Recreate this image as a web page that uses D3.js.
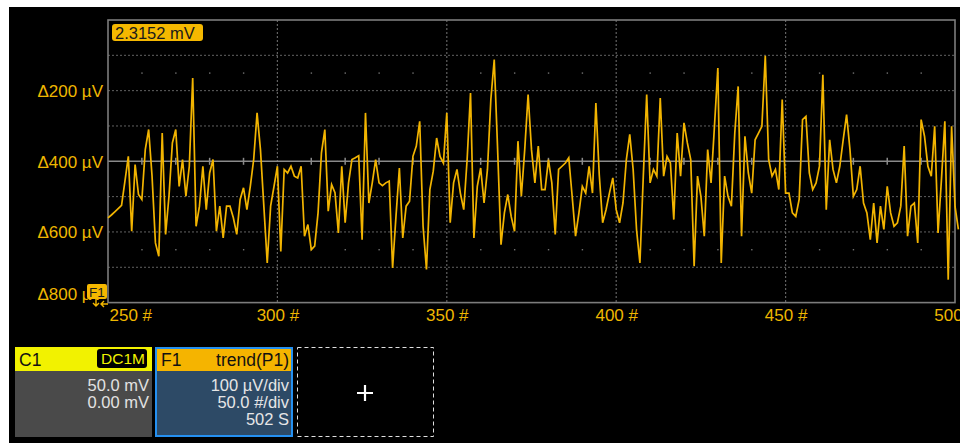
<!DOCTYPE html>
<html><head><meta charset="utf-8">
<script src="https://cdn.jsdelivr.net/npm/d3@7/dist/d3.min.js"></script>
<style>
html,body{margin:0;padding:0;background:#fff;}
svg{display:block;font-family:"Liberation Sans",Arial,sans-serif;}
</style></head><body>
<svg id="c" width="960" height="443"></svg>
<script>
// ---- data ----
const sampleStart = 250; // first sample index shown (#)
const trendValues = [
560,552,543,534,525,456,386,598,409,494,
508,367,310,442,631,669,320,607,499,348,
310,471,395,499,414,164,584,527,414,537,
433,395,598,527,617,527,527,560,607,508,
475,537,471,395,263,367,527,688,527,471,
414,
655,423,433,414,442,447,414,612,579,650,
640,546,376,310,541,466,489,603,414,574,
461,395,390,384,622,263,518,461,395,461,
469,461,456,702,556,419,617,527,513,386,
357,287,584,706,480,428,334,386,405,263,
574,461,423,490,537,395,207,617,471,419,
518,423,225,112,367,636,546,494,556,598,
343,499,367,211,367,461,357,480,480,395,
461,607,423,414,405,390,499,612,546,471,
490,414,490,235,438,574,537,490,447,537,
574,518,395,324,423,593,688,442,211,461,
423,442,221,442,386,405,565,320,442,291,
348,395,697,442,499,612,367,461,301,136,
688,442,499,527,320,188,612,329,433,490,
339,320,301,101,395,442,423,480,225,490,
490,546,556,508,282,273,433,480,461,414,
155,537,339,423,461,414,339,268,367,499,
480,414,518,546,622,518,631,527,593,471,
546,584,574,527,357,612,527,518,631,282,
329,414,442,301,603,452,287,735,301,527,
593
]; // µV (Δ)
const xTicks = [250,300,350,400,450,500];
const xMinor = [260,270,280,290,310,320,330,340,360,370,380,390,410,420,430,440,460,470,480,490];
const yGrid = [100,200,300,400,500,600,700];
const yLabels = [200,400,600,800];
const yDots = [150,650];
const cursorText = "2.3152 mV";
const c1Lines = ["50.0 mV","0.00 mV"];
const f1Lines = ["100 µV/div","50.0 #/div","502 S"];

// ---- drawing ----
const svg = d3.select("#c");
const L=108, R=955, T=20, B=302.6;
const x = d3.scaleLinear().domain([250,500]).range([L,R]);
const y = d3.scaleLinear().domain([0,800]).range([T,B]);
const amber = "#f2b400", labelCol = "#efb700", gridCol = "#626262";

svg.append("rect").attr("x",9).attr("y",7).attr("width",951).attr("height",436).attr("fill","#000");

const g = svg.append("g");
g.selectAll(".hg").data(yGrid.filter(v=>v!==400)).enter().append("line")
  .attr("x1",L).attr("x2",R).attr("y1",d=>y(d)).attr("y2",d=>y(d))
  .attr("stroke",gridCol).attr("stroke-width",1).attr("stroke-dasharray","2,2");
g.selectAll(".vg").data(xTicks.slice(1,-1)).enter().append("line")
  .attr("x1",d=>x(d)).attr("x2",d=>x(d)).attr("y1",T).attr("y2",B)
  .attr("stroke",gridCol).attr("stroke-width",1.2).attr("stroke-dasharray","2,2");
yDots.forEach(v=>{
  g.selectAll(null).data(xMinor).enter().append("rect")
    .attr("x",d=>x(d)-0.6).attr("y",y(v)-0.6).attr("width",1.4).attr("height",1.4).attr("fill","#707070");
});
g.append("line").attr("x1",L).attr("x2",R).attr("y1",y(400)).attr("y2",y(400))
  .attr("stroke","#8a8a8a").attr("stroke-width",1.5);
g.selectAll(".ct").data(xMinor).enter().append("line")
  .attr("x1",d=>x(d)).attr("x2",d=>x(d)).attr("y1",y(400)-3.5).attr("y2",y(400)+3.5)
  .attr("stroke","#8a8a8a").attr("stroke-width",1.5);
g.append("rect").attr("x",L).attr("y",T).attr("width",R-L).attr("height",B-T)
  .attr("fill","none").attr("stroke","#7c7c7c").attr("stroke-width",1.6);

// trace
const line = d3.line().x((d,i)=>x(sampleStart+i)).y(d=>y(d));
svg.append("path").datum(trendValues).attr("d",line)
  .attr("fill","none").attr("stroke",amber).attr("stroke-width",1.7).attr("stroke-linejoin","miter");

// y labels
const yl = svg.append("g").attr("transform",`translate(${L-5},0)`)
  .call(d3.axisLeft(y).tickValues(yLabels).tickSize(0).tickPadding(0).tickFormat(d=>"Δ"+d+" µV"));
yl.select(".domain").remove();
yl.selectAll("text").attr("fill",labelCol).attr("font-size",17)
  .attr("font-family","Liberation Sans, Arial, sans-serif")
  .attr("dy",(d)=> d===800 ? "-0.2em" : "0.35em");

// x labels
const xl = svg.append("g").attr("transform",`translate(0,${B+6})`)
  .call(d3.axisBottom(x).tickValues(xTicks).tickSize(0).tickPadding(0).tickFormat(d=>d+" #"));
xl.select(".domain").remove();
xl.selectAll("text").attr("fill",labelCol).attr("font-size",17)
  .attr("font-family","Liberation Sans, Arial, sans-serif")
  .attr("text-anchor",d=> d===250 ? "start" : "middle")
  .attr("x",d=> d===250 ? 1 : 0);

// cursor readout
svg.append("rect").attr("x",112).attr("y",24).attr("width",91).attr("height",17).attr("rx",3).attr("fill","#f5b800");
svg.append("text").attr("x",115).attr("y",38.5).attr("font-size",16.5).attr("fill","#1a1a1a").text(cursorText);

// F1 marker
svg.append("rect").attr("x",87).attr("y",284).attr("width",20).attr("height",15).attr("rx",2).attr("fill","#f5b800");
svg.append("text").attr("x",89).attr("y",297).attr("font-size",13.5).attr("fill","#1a1a1a").text("F1");
svg.append("path").attr("d","M96,299 L96,306 M93,303 L96,306 L99,303").attr("stroke","#f5b800").attr("stroke-width",1.4).attr("fill","none");
svg.append("path").attr("d","M101,304 L108,304 M104,301 L101,304 L104,307").attr("stroke","#f5b800").attr("stroke-width",1.4).attr("fill","none");

// bottom panels
svg.append("rect").attr("x",15).attr("y",347).attr("width",137).attr("height",90).attr("fill","#4a4a4a");
svg.append("rect").attr("x",15).attr("y",347).attr("width",137).attr("height",24).attr("fill","#f2f200");
svg.append("text").attr("x",19).attr("y",366).attr("font-size",17.5).attr("fill","#111").text("C1");
svg.append("rect").attr("x",97).attr("y",349).attr("width",50).attr("height",19).attr("rx",3).attr("fill","#000");
svg.append("text").attr("x",145).attr("y",364).attr("text-anchor","end").attr("font-size",15.5).attr("fill","#f2f200").text("DC1M");
svg.selectAll(".c1t").data(c1Lines).enter().append("text")
  .attr("x",149).attr("y",(d,i)=>391+i*17).attr("text-anchor","end").attr("font-size",16.5).attr("fill","#e2e2e2").text(d=>d);
svg.append("rect").attr("x",156).attr("y",348).attr("width",136).attr("height",88).attr("fill","#2d4a66").attr("stroke","#2590f0").attr("stroke-width",2);
svg.append("rect").attr("x",157).attr("y",349).attr("width",134).attr("height",22).attr("fill","#f5b400");
svg.append("text").attr("x",161).attr("y",366).attr("font-size",17.5).attr("fill","#111").text("F1");
svg.append("text").attr("x",289).attr("y",366).attr("text-anchor","end").attr("font-size",17.5).attr("fill","#111").text("trend(P1)");
svg.selectAll(".f1t").data(f1Lines).enter().append("text")
  .attr("x",289).attr("y",(d,i)=>391+i*17).attr("text-anchor","end").attr("font-size",16.5).attr("fill","#e6e6e6").text(d=>d);
svg.append("rect").attr("x",297.5).attr("y",347.5).attr("width",136).attr("height",89).attr("fill","#000")
  .attr("stroke","#e0e0e0").attr("stroke-width",1).attr("stroke-dasharray","4,3");
svg.append("path").attr("d","M357,393 L373,393 M365,385 L365,401").attr("stroke","#fff").attr("stroke-width",2.2);
</script>
</body></html>
